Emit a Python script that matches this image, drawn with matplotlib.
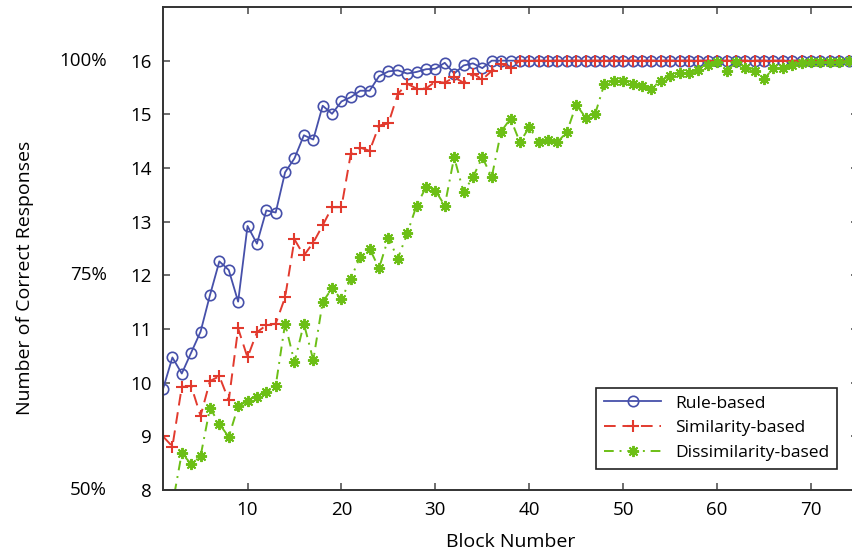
import numpy as np
import matplotlib
matplotlib.use('Agg')
import matplotlib.pyplot as plt

plt.rcParams['font.family'] = ['Open Sans', 'DejaVu Sans']

# données
blocks = np.arange(1, 76)

ruleBased = [9.88, 10.47, 10.17, 10.56, 10.95, 11.63, 12.26, 12.10, 11.51, 12.92,
             12.59, 13.21, 13.17, 13.92, 14.18, 14.61, 14.53, 15.16, 15.01, 15.24,
             15.32, 15.44, 15.44, 15.71, 15.80, 15.82, 15.76, 15.79, 15.84, 15.85,
             15.96, 15.76, 15.91, 15.95, 15.86] + [16.0] * 40

similarityBased = [9.0, 8.81, 9.92, 9.94, 9.38, 10.03, 10.12, 9.67, 11.01, 10.47,
                   10.94, 11.07, 11.10, 11.59, 12.67, 12.37, 12.61, 12.93, 13.27, 13.27,
                   14.27, 14.38, 14.32, 14.79, 14.83, 15.38, 15.57, 15.48, 15.48, 15.61,
                   15.59, 15.69, 15.59, 15.76, 15.65, 15.81, 15.94, 15.87] + [16.0] * 37

dissimilarityBased = [7.6, 7.72, 8.69, 8.48, 8.63, 9.53, 9.23, 8.99, 9.56, 9.66,
                      9.73, 9.82, 9.94, 11.10, 10.38, 11.10, 10.42, 11.50, 11.76, 11.55,
                      11.94, 12.35, 12.50, 12.13, 12.70, 12.31, 12.78, 13.30, 13.64, 13.58,
                      13.30, 14.20, 13.55, 13.83, 14.20, 13.83, 14.68, 14.92, 14.48, 14.76,
                      14.48, 14.53, 14.48, 14.67, 15.18, 14.94, 15.00, 15.57, 15.63, 15.63,
                      15.57, 15.52, 15.48, 15.63, 15.72, 15.77, 15.77, 15.82, 15.91, 15.97,
                      15.80, 15.97, 15.86, 15.80, 15.66, 15.86, 15.86, 15.91, 15.95, 15.97,
                      15.97, 15.97, 15.97, 16.0, 16.0]

yTicks = [8, 9, 10, 11, 12, 13, 14, 15, 16]
xTicks = [10, 20, 30, 40, 50, 60, 70]
pctTicks = [8, 12, 16]
pctLabels = ['50%', '75%', '100%']


# affichage
fig = plt.figure(figsize=(8.53, 5.56), dpi=100)
ax = fig.add_axes([163/853, 66/556, 695/853, 483/556])

ax.plot(blocks, ruleBased, '-', color='#4650aa', lw=1.3,
        marker='o', ms=7.5, mfc='none', mew=1.2, label='Rule-based')
ax.plot(blocks, similarityBased, color='#e23a2e', lw=1.4, ls=(0, (6, 3.5)),
        marker='+', ms=8, mew=1.5, label='Similarity-based')
ax.plot(blocks, dissimilarityBased, color='#6cbf16', lw=1.4, ls=(0, (5, 3, 1, 3)),
        marker=(8, 2, 0), ms=8, mew=1.4, label='Dissimilarity-based')

ax.set_xlim(1, 75)
ax.set_ylim(8, 17)
ax.set_xticks(xTicks)
ax.set_yticks(yTicks)
ax.tick_params(direction='in', length=5, width=1.2, color='#555555',
               top=True, right=True, labelsize=13.5, pad=8)
for s in ax.spines.values():
    s.set_linewidth(1.4)
    s.set_color('#333333')

for v, lab in zip(pctTicks, pctLabels):
    ax.annotate(lab, xy=(0, v), xycoords=('axes fraction', 'data'),
                xytext=(-56, 0), textcoords='offset pixels',
                ha='right', va='center', fontsize=13.5)

ax.set_xlabel('Block Number', fontsize=14)
ax.set_ylabel('Number of Correct Responses', fontsize=14)
ax.xaxis.set_label_coords(0.5, -0.09)
ax.yaxis.set_label_coords(-0.185, 0.44)

leg = ax.legend(loc='lower right', bbox_to_anchor=(0.970, 0.0435),
                borderaxespad=0, fontsize=12.5, handlelength=3.3,
                labelspacing=0.5, borderpad=0.45,
                fancybox=False, framealpha=1, edgecolor='#222222')
leg.get_frame().set_linewidth(1.2)

fig.savefig('out.png', dpi=100)
